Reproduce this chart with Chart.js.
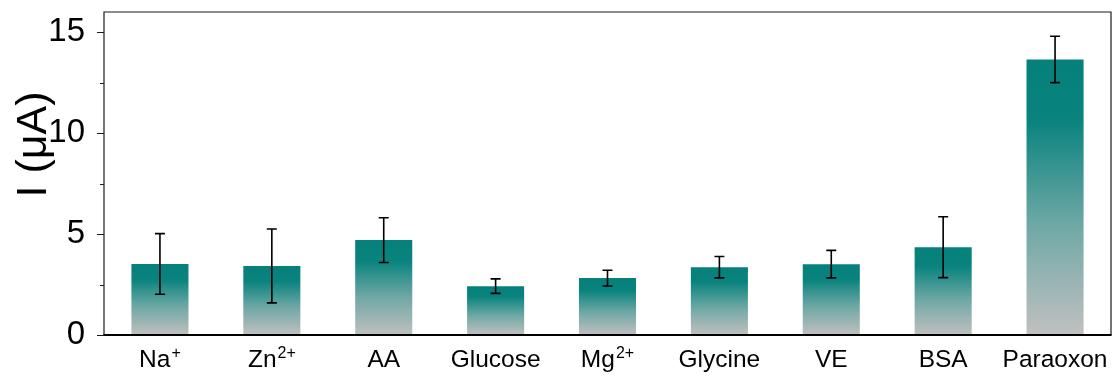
<!DOCTYPE html>
<html>
<head>
<meta charset="utf-8">
<script src="https://cdn.jsdelivr.net/npm/chart.js@4.4.1/dist/chart.umd.min.js"></script>
<style>
  html, body { margin: 0; padding: 0; background: #ffffff; }
  #wrap { width: 1115px; height: 376px; }
</style>
</head>
<body>
<div id="wrap"><canvas id="c" width="1115" height="376"></canvas></div>
<script>
// Interferent names: base text plus optional superscript charge
const labelBase = ['Na', 'Zn', 'AA', 'Glucose', 'Mg', 'Glycine', 'VE', 'BSA', 'Paraoxon'];
const labelSup  = ['+', '2+', '', '', '2+', '', '', '', ''];
// Mean current (µA) and standard deviation for each sample
const currents = [3.52, 3.42, 4.70, 2.42, 2.82, 3.36, 3.51, 4.35, 13.65];
const errors   = [1.50, 1.83, 1.11, 0.36, 0.39, 0.53, 0.68, 1.51, 1.15];
// Y axis tick values
const majorTicks = [0, 5, 10, 15];
const minorTicks = [2.5, 7.5, 12.5];

const FONT = 'Liberation Sans, Arial, Helvetica, sans-serif';
const TEAL = '#05807b';
const GREY = '#c0c0c0';

function barGradient(ctx) {
  const chart = ctx.chart;
  const area = chart.chartArea;
  if (!area || ctx.type !== 'data') return TEAL;
  const y = chart.scales.y;
  const top = y.getPixelForValue(ctx.raw);
  const base = y.getPixelForValue(0);
  const g = chart.ctx.createLinearGradient(0, top, 0, base);
  g.addColorStop(0, TEAL);
  g.addColorStop(0.22, '#0a837e');
  g.addColorStop(0.6, '#6ea8a5');
  g.addColorStop(1, GREY);
  return g;
}

const decorations = {
  id: 'decorations',
  afterDatasetsDraw(chart) {
    const { ctx, scales: { x, y } } = chart;
    ctx.save();
    // error bars
    ctx.strokeStyle = '#000';
    ctx.lineWidth = 1.6;
    currents.forEach((v, i) => {
      const cx = x.getPixelForValue(i);
      const hi = y.getPixelForValue(v + errors[i]);
      const lo = y.getPixelForValue(v - errors[i]);
      ctx.beginPath();
      ctx.moveTo(cx, hi); ctx.lineTo(cx, lo);
      ctx.moveTo(cx - 5, hi); ctx.lineTo(cx + 5, hi);
      ctx.moveTo(cx - 5, lo); ctx.lineTo(cx + 5, lo);
      ctx.stroke();
    });
    ctx.restore();
  },
  afterDraw(chart) {
    const { ctx, chartArea: a, scales: { x, y } } = chart;
    ctx.save();
    // frame: thin top/right/left, heavier bottom axis
    ctx.strokeStyle = '#1a1a1a';
    ctx.lineWidth = 1.2;
    ctx.beginPath();
    ctx.moveTo(a.left, a.bottom); ctx.lineTo(a.left, a.top);
    ctx.lineTo(a.right, a.top); ctx.lineTo(a.right, a.bottom);
    ctx.stroke();
    ctx.strokeStyle = '#000';
    ctx.lineWidth = 2.2;
    ctx.beginPath();
    ctx.moveTo(a.left - 0.5, a.bottom); ctx.lineTo(a.right + 0.6, a.bottom);
    ctx.stroke();

    // y ticks: major and minor, pointing outward
    ctx.lineWidth = 1.2;
    ctx.strokeStyle = '#1a1a1a';
    ctx.beginPath();
    majorTicks.forEach(t => {
      const py = Math.round(y.getPixelForValue(t)) + 0.5;
      ctx.moveTo(a.left - 7, py); ctx.lineTo(a.left, py);
    });
    minorTicks.forEach(t => {
      const py = Math.round(y.getPixelForValue(t)) + 0.5;
      ctx.moveTo(a.left - 4, py); ctx.lineTo(a.left, py);
    });
    ctx.stroke();

    // category labels with superscript charges
    ctx.fillStyle = '#000';
    ctx.textBaseline = 'alphabetic';
    ctx.textAlign = 'left';
    const baseFont = '24.5px ' + FONT;
    const supFont = '16px ' + FONT;
    const baseline = a.bottom + 32;
    labelBase.forEach((txt, i) => {
      const cx = x.getPixelForValue(i);
      ctx.font = baseFont;
      const w1 = ctx.measureText(txt).width;
      ctx.font = supFont;
      const w2 = labelSup[i] ? ctx.measureText(labelSup[i]).width + 1 : 0;
      const left = cx - (w1 + w2) / 2;
      ctx.font = baseFont;
      ctx.fillText(txt, left, baseline);
      if (labelSup[i]) {
        ctx.font = supFont;
        ctx.fillText(labelSup[i], left + w1 + 1, baseline - 9);
      }
    });

    // y axis title
    ctx.font = '43px ' + FONT;
    ctx.textAlign = 'center';
    ctx.textBaseline = 'alphabetic';
    ctx.translate(46, a.top + (a.bottom - a.top) * 0.41);
    ctx.rotate(-Math.PI / 2);
    ctx.fillText('I (\u03bcA)', 0, 0);
    ctx.restore();
  }
};

new Chart(document.getElementById('c'), {
  type: 'bar',
  data: {
    labels: labelBase.map((b, i) => b + labelSup[i]),
    datasets: [{
      data: currents,
      backgroundColor: barGradient,
      borderWidth: 0,
      categoryPercentage: 1.0,
      barPercentage: 0.51
    }]
  },
  options: {
    responsive: false,
    animation: false,
    devicePixelRatio: 1,
    layout: { padding: { top: 12, right: 4, left: 0, bottom: 0 } },
    plugins: { legend: { display: false }, tooltip: { enabled: false } },
    scales: {
      x: {
        grid: { display: false },
        border: { display: false },
        ticks: { display: false },
        afterFit(s) { s.height = 41; s.paddingLeft = 0; s.paddingRight = 0; }
      },
      y: {
        min: 0,
        max: 16,
        grid: { display: false },
        border: { display: false },
        ticks: {
          stepSize: 5,
          padding: 11,
          color: '#000',
          font: { family: FONT, size: 33 }
        },
        afterBuildTicks(s) { s.ticks = majorTicks.map(v => ({ value: v })); },
        afterFit(s) { s.width = 104; s.paddingTop = 0; s.paddingBottom = 0; }
      }
    }
  },
  plugins: [decorations]
});
</script>
</body>
</html>
